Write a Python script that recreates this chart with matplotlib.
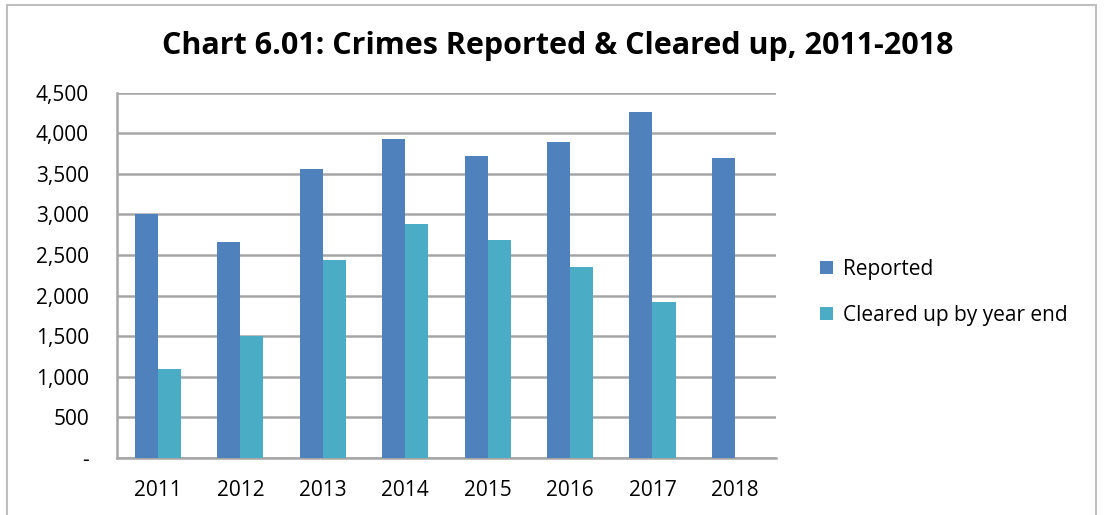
import matplotlib.pyplot as plt
import numpy as np
from matplotlib.ticker import FuncFormatter, MultipleLocator
from matplotlib.patches import Rectangle

years = ["2011", "2012", "2013", "2014", "2015", "2016", "2017", "2018"]
reported = [3000, 2665, 3565, 3935, 3717, 3893, 4267, 3692]
cleared = [1100, 1496, 2444, 2883, 2682, 2358, 1919, np.nan]

blue = "#4F81BD"
teal = "#4BACC6"
grid_col = "#A6A6A6"

plt.rcParams["font.family"] = ["Open Sans", "DejaVu Sans"]

fig = plt.figure(figsize=(11.04, 5.15), dpi=100)
ax = fig.add_axes([0.1057, 0.111, 0.5973, 0.709])

x = np.arange(len(years))
w = 0.28
ax.bar(x - w / 2, reported, w, color=blue, label="Reported", zorder=3)
ax.bar(x + w / 2, cleared, w, color=teal, label="Cleared up by year end", zorder=3)

ax.set_xlim(-0.5, len(years) - 0.5)
ax.set_ylim(0, 4500)
ax.yaxis.set_major_locator(MultipleLocator(500))
ax.yaxis.set_major_formatter(FuncFormatter(lambda v, p: "-" if v == 0 else f"{v:,.0f}"))
ax.set_xticks(x)
ax.set_xticklabels(years)
ax.tick_params(axis="both", length=0, labelsize=15, colors="black")
ax.tick_params(axis="y", pad=20)
ax.tick_params(axis="x", pad=16)

ax.grid(axis="y", color=grid_col, linewidth=1.8, zorder=0)
for s in ["top", "right"]:
    ax.spines[s].set_visible(False)
for s in ["left", "bottom"]:
    ax.spines[s].set_color(grid_col)
    ax.spines[s].set_linewidth(1.8)

fig.text(0.505, 0.91, "Chart 6.01: Crimes Reported & Cleared up, 2011-2018",
         ha="center", va="center", fontsize=22, fontweight="bold")

fig.legend(loc="center left", bbox_to_anchor=(0.743, 0.433), frameon=False,
           fontsize=15, handlelength=0.6, handleheight=0.6, borderpad=0,
           borderaxespad=0, handletextpad=0.5, labelspacing=1.2)

fig.patches.append(Rectangle((0.006, -0.02), 0.987, 1.01, transform=fig.transFigure,
                             fill=False, edgecolor="#BFBFBF", linewidth=1.5))

fig.savefig("out.png", dpi=100)
